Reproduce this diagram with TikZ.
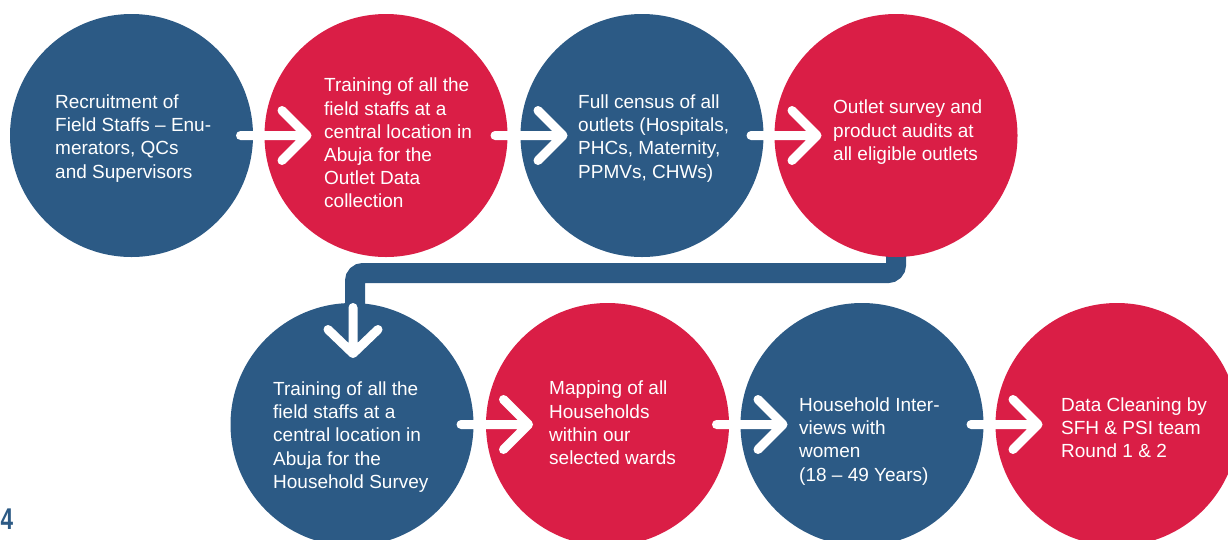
\documentclass[tikz,border=0pt]{standalone}
\usepackage{fontspec}
\setmainfont{Liberation Sans}
\usetikzlibrary{backgrounds}
\definecolor{dblue}{RGB}{44,90,133}
\definecolor{dred}{RGB}{218,30,70}
\begin{document}
\begin{tikzpicture}[x=1pt,y=-1pt,
  stage/.style={circle, minimum size=243pt, inner sep=0pt, outer sep=0pt},
  bluestage/.style={stage, fill=dblue},
  redstage/.style={stage, fill=dred},
  stagetext/.style={anchor=north west, inner sep=0pt, align=left, text=white,
    font=\fontsize{19}{23.2}\selectfont},
  flow/.style={draw=white, line width=9pt, line cap=round, line join=round},
  hchev/.style={to path={-- (\tikztotarget) ++(-25,-25) -- (\tikztotarget) -- ++(-25,25)}},
  vchev/.style={to path={-- (\tikztotarget) ++(-25,-24) -- (\tikztotarget) -- ++(25,-24)}},
  bar/.style={draw=dblue, line width=20pt, rounded corners=8pt}]
\clip (0,0) rectangle (1228,539);
% stages
\node[bluestage] (e1) at (131.5,135.5) {};
\node[redstage]  (e2) at (386,135.5) {};
\node[bluestage] (e3) at (642,135.5) {};
\node[redstage]  (e4) at (896,135.5) {};
\node[bluestage] (e5) at (352,424.5) {};
\node[redstage]  (e6) at (607.5,424.5) {};
\node[bluestage] (e7) at (862,424.5) {};
\node[redstage]  (e8) at (1117,424.5) {};
% link between the rows
\begin{scope}[on background layer]
\draw[bar] ([yshift=10pt]e4.south) -- ++(0,26) -| ([xshift=3pt,yshift=-10pt]e5.north);
\end{scope}
% texts
\node[stagetext] (t1) at (55,94.5) {Recruitment of\\Field Staffs -- Enu-\\merators, QCs\\and Supervisors};
\node[stagetext] (t2) at (324,78) {Training of all the\\field staffs at a\\central location in\\Abuja for the\\Outlet Data\\collection};
\node[stagetext] (t3) at (578,94.5) {Full census of all\\outlets (Hospitals,\\PHCs, Maternity,\\PPMVs, CHWs)};
\node[stagetext] (t4) at (833,100) {Outlet survey and\\product audits at\\all eligible outlets};
\node[stagetext] (t5) at (273,381.5) {Training of all the\\field staffs at a\\central location in\\Abuja for the\\Household Survey};
\node[stagetext] (t6) at (549,381) {Mapping of all\\Households\\within our\\selected wards};
\node[stagetext] (t7) at (799,397.5) {Household Inter-\\views with\\women\\(18 -- 49 Years)};
\node[stagetext] (t8) at (1061,397.5) {Data Cleaning by\\SFH \& PSI team\\Round 1 \& 2};
% arrows
\draw[flow] ([xshift=-12.5pt]e1.east) to[hchev] ([xshift=42.5pt]e2.west);
\draw[flow] ([xshift=-12.5pt]e2.east) to[hchev] ([xshift=42.5pt]e3.west);
\draw[flow] ([xshift=-12.5pt]e3.east) to[hchev] ([xshift=42.5pt]e4.west);
\draw[flow] ([xshift=1pt,yshift=-4.5pt]e5.north) to[vchev] ([xshift=1pt,yshift=-50.5pt]e5.north);
\draw[flow] ([xshift=-12.5pt]e5.east) to[hchev] ([xshift=42.5pt]e6.west);
\draw[flow] ([xshift=-12.5pt]e6.east) to[hchev] ([xshift=42.5pt]e7.west);
\draw[flow] ([xshift=-12.5pt]e7.east) to[hchev] ([xshift=42.5pt]e8.west);
% page number
\node[anchor=base west, inner sep=0pt, text=dblue, font=\bfseries\fontsize{30}{30}\selectfont] (pagenum) at (0.5,529) {\scalebox{0.75}[1]{4}};
\end{tikzpicture}
\end{document}
